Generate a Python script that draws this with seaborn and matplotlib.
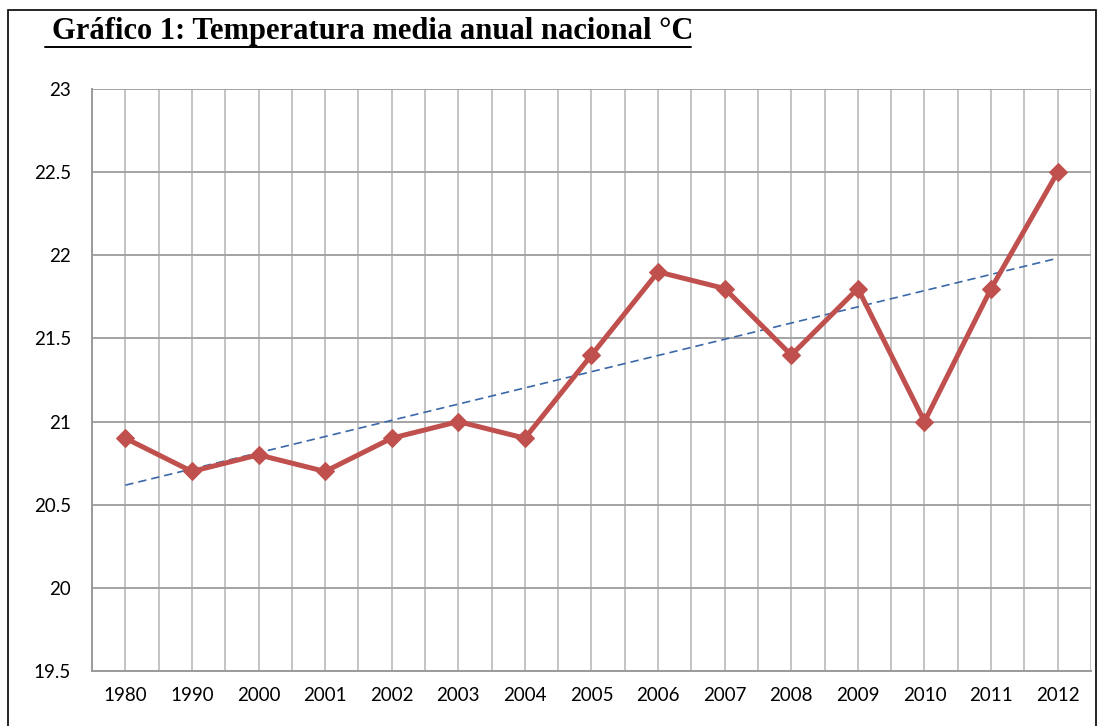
import matplotlib
matplotlib.use("Agg")
import matplotlib.pyplot as plt
import seaborn as sns
import numpy as np
import pandas as pd
from matplotlib.patches import Rectangle
from matplotlib.lines import Line2D
from matplotlib.ticker import FixedLocator, FuncFormatter

# ── data ──────────────────────────────────────────────────────────────
years = ["1980", "1990", "2000", "2001", "2002", "2003", "2004", "2005",
         "2006", "2007", "2008", "2009", "2010", "2011", "2012"]
temps = [20.9, 20.7, 20.8, 20.7, 20.9, 21.0, 20.9, 21.4,
         21.9, 21.8, 21.4, 21.8, 21.0, 21.8, 22.5]
y_ticks = [19.5, 20, 20.5, 21, 21.5, 22, 22.5, 23]
title = "Gráfico 1: Temperatura media anual nacional °C"

df = pd.DataFrame({"pos": np.arange(len(years)), "year": years, "temp": temps})

# ── style ─────────────────────────────────────────────────────────────
sns.set_style("white")
plt.rcParams["font.family"] = ["Lato", "DejaVu Sans"]

fig = plt.figure(figsize=(10.98, 7.26), dpi=100)
ax = fig.add_axes([92 / 1098, 1 - 671 / 726, 999 / 1098, 582 / 726])

# grid first so the lines sit on top
ax.set_xlim(-0.5, len(years) - 0.5)
ax.set_ylim(19.5, 23)
ax.xaxis.set_major_locator(FixedLocator(df["pos"]))
ax.xaxis.set_minor_locator(FixedLocator(np.arange(-0.5, len(years), 1.0)))
ax.yaxis.set_major_locator(FixedLocator(y_ticks))
ax.set_xticklabels(years)
ax.yaxis.set_major_formatter(FuncFormatter(lambda v, p: f"{v:g}"))
ax.grid(True, axis="x", which="both", color="#c4c4c4", lw=1.4)
ax.grid(True, axis="y", which="major", color="#a3a3a3", lw=1.4)
ax.set_axisbelow(True)

# trend line (linear fit)
sns.regplot(data=df, x="pos", y="temp", scatter=False, ci=None, ax=ax,
            truncate=True,
            line_kws=dict(color="#3a68a8", lw=1.2, ls=(0, (5, 3))))

# main series
sns.lineplot(data=df, x="pos", y="temp", ax=ax, color="#c0504d", lw=3.6,
             marker="D", markersize=9, markeredgecolor="#c0504d")

ax.set_xlabel("")
ax.set_ylabel("")
for side in ["top", "right"]:
    ax.spines[side].set_visible(False)
for side in ["left", "bottom"]:
    ax.spines[side].set_color("#9a9a9a")
    ax.spines[side].set_linewidth(1.4)

ax.tick_params(axis="x", which="major", length=4.5, width=1.4, color="#a0a0a0",
               pad=7, labelsize=13.5, labelcolor="black")
ax.tick_params(axis="x", which="minor", length=0)
ax.tick_params(axis="y", length=0, pad=15, labelsize=13.5, labelcolor="black")

# title with underline
fig.text(52 / 1098, 1 - 32 / 726, title, family="Liberation Serif",
         fontweight="bold", fontsize=22, va="center", ha="left", color="black")
fig.add_artist(Line2D([45 / 1098, 691 / 1098], [1 - 47 / 726, 1 - 47 / 726],
                      color="black", lw=1.4, transform=fig.transFigure))

# outer frame
fig.add_artist(Rectangle((8 / 1098, -0.05), 1088 / 1098, 1.05 - 10 / 726,
                         fill=False, edgecolor="black", lw=1.2,
                         transform=fig.transFigure))

fig.savefig("out.png", dpi=100)
